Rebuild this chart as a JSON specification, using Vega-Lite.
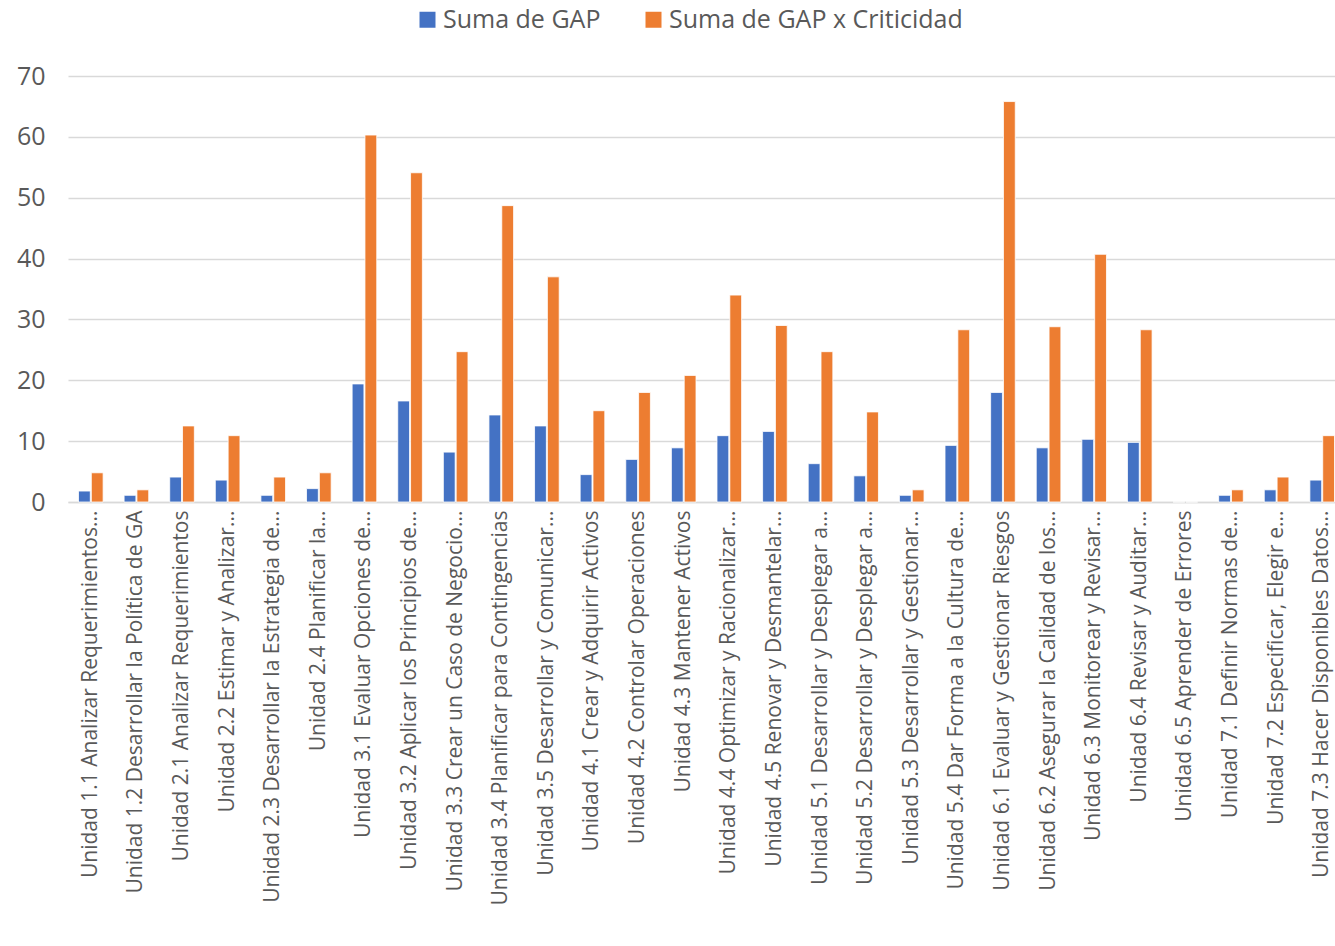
{
  "$schema": "https://vega.github.io/schema/vega-lite/v6.json",
  "width": 1267,
  "height": 426,
  "autosize": "none",
  "padding": {"left": 68, "top": 76, "right": 0, "bottom": 444},
  "background": "white",
  "config": {
    "view": {"stroke": null},
    "font": "Open Sans"
  },
  "data": {
    "values": [
      {"unidad": "Unidad 1.1 Analizar Requerimientos...", "serie": "Suma de GAP", "valor": 1.8},
      {"unidad": "Unidad 1.1 Analizar Requerimientos...", "serie": "Suma de GAP x Criticidad", "valor": 4.8},
      {"unidad": "Unidad 1.2 Desarrollar la Política de GA", "serie": "Suma de GAP", "valor": 1.1},
      {"unidad": "Unidad 1.2 Desarrollar la Política de GA", "serie": "Suma de GAP x Criticidad", "valor": 2},
      {"unidad": "Unidad 2.1 Analizar Requerimientos", "serie": "Suma de GAP", "valor": 4.1},
      {"unidad": "Unidad 2.1 Analizar Requerimientos", "serie": "Suma de GAP x Criticidad", "valor": 12.5},
      {"unidad": "Unidad 2.2 Estimar y Analizar...", "serie": "Suma de GAP", "valor": 3.6},
      {"unidad": "Unidad 2.2 Estimar y Analizar...", "serie": "Suma de GAP x Criticidad", "valor": 10.9},
      {"unidad": "Unidad 2.3 Desarrollar la Estrategia de...", "serie": "Suma de GAP", "valor": 1.1},
      {"unidad": "Unidad 2.3 Desarrollar la Estrategia de...", "serie": "Suma de GAP x Criticidad", "valor": 4.1},
      {"unidad": "Unidad 2.4 Planificar la...", "serie": "Suma de GAP", "valor": 2.2},
      {"unidad": "Unidad 2.4 Planificar la...", "serie": "Suma de GAP x Criticidad", "valor": 4.8},
      {"unidad": "Unidad 3.1 Evaluar Opciones de...", "serie": "Suma de GAP", "valor": 19.4},
      {"unidad": "Unidad 3.1 Evaluar Opciones de...", "serie": "Suma de GAP x Criticidad", "valor": 60.3},
      {"unidad": "Unidad 3.2 Aplicar los Principios de...", "serie": "Suma de GAP", "valor": 16.6},
      {"unidad": "Unidad 3.2 Aplicar los Principios de...", "serie": "Suma de GAP x Criticidad", "valor": 54.1},
      {"unidad": "Unidad 3.3 Crear un Caso de Negocio...", "serie": "Suma de GAP", "valor": 8.2},
      {"unidad": "Unidad 3.3 Crear un Caso de Negocio...", "serie": "Suma de GAP x Criticidad", "valor": 24.7},
      {"unidad": "Unidad 3.4 Planificar para Contingencias", "serie": "Suma de GAP", "valor": 14.3},
      {"unidad": "Unidad 3.4 Planificar para Contingencias", "serie": "Suma de GAP x Criticidad", "valor": 48.7},
      {"unidad": "Unidad 3.5 Desarrollar y Comunicar...", "serie": "Suma de GAP", "valor": 12.5},
      {"unidad": "Unidad 3.5 Desarrollar y Comunicar...", "serie": "Suma de GAP x Criticidad", "valor": 37},
      {"unidad": "Unidad 4.1 Crear y Adquirir Activos", "serie": "Suma de GAP", "valor": 4.5},
      {"unidad": "Unidad 4.1 Crear y Adquirir Activos", "serie": "Suma de GAP x Criticidad", "valor": 15},
      {"unidad": "Unidad 4.2 Controlar Operaciones", "serie": "Suma de GAP", "valor": 7},
      {"unidad": "Unidad 4.2 Controlar Operaciones", "serie": "Suma de GAP x Criticidad", "valor": 18},
      {"unidad": "Unidad 4.3 Mantener Activos", "serie": "Suma de GAP", "valor": 8.9},
      {"unidad": "Unidad 4.3 Mantener Activos", "serie": "Suma de GAP x Criticidad", "valor": 20.8},
      {"unidad": "Unidad 4.4 Optimizar y Racionalizar...", "serie": "Suma de GAP", "valor": 10.9},
      {"unidad": "Unidad 4.4 Optimizar y Racionalizar...", "serie": "Suma de GAP x Criticidad", "valor": 34},
      {"unidad": "Unidad 4.5 Renovar y Desmantelar...", "serie": "Suma de GAP", "valor": 11.6},
      {"unidad": "Unidad 4.5 Renovar y Desmantelar...", "serie": "Suma de GAP x Criticidad", "valor": 29},
      {"unidad": "Unidad 5.1 Desarrollar y Desplegar a...", "serie": "Suma de GAP", "valor": 6.3},
      {"unidad": "Unidad 5.1 Desarrollar y Desplegar a...", "serie": "Suma de GAP x Criticidad", "valor": 24.7},
      {"unidad": "Unidad 5.2 Desarrollar y Desplegar a... ", "serie": "Suma de GAP", "valor": 4.3},
      {"unidad": "Unidad 5.2 Desarrollar y Desplegar a... ", "serie": "Suma de GAP x Criticidad", "valor": 14.8},
      {"unidad": "Unidad 5.3 Desarrollar y Gestionar...", "serie": "Suma de GAP", "valor": 1.1},
      {"unidad": "Unidad 5.3 Desarrollar y Gestionar...", "serie": "Suma de GAP x Criticidad", "valor": 2},
      {"unidad": "Unidad 5.4 Dar Forma a la Cultura de...", "serie": "Suma de GAP", "valor": 9.3},
      {"unidad": "Unidad 5.4 Dar Forma a la Cultura de...", "serie": "Suma de GAP x Criticidad", "valor": 28.3},
      {"unidad": "Unidad 6.1 Evaluar y Gestionar Riesgos", "serie": "Suma de GAP", "valor": 18},
      {"unidad": "Unidad 6.1 Evaluar y Gestionar Riesgos", "serie": "Suma de GAP x Criticidad", "valor": 65.8},
      {"unidad": "Unidad 6.2 Asegurar la Calidad de los...", "serie": "Suma de GAP", "valor": 8.9},
      {"unidad": "Unidad 6.2 Asegurar la Calidad de los...", "serie": "Suma de GAP x Criticidad", "valor": 28.8},
      {"unidad": "Unidad 6.3 Monitorear y Revisar...", "serie": "Suma de GAP", "valor": 10.3},
      {"unidad": "Unidad 6.3 Monitorear y Revisar...", "serie": "Suma de GAP x Criticidad", "valor": 40.7},
      {"unidad": "Unidad 6.4 Revisar y Auditar...", "serie": "Suma de GAP", "valor": 9.8},
      {"unidad": "Unidad 6.4 Revisar y Auditar...", "serie": "Suma de GAP x Criticidad", "valor": 28.3},
      {"unidad": "Unidad 6.5 Aprender de Errores", "serie": "Suma de GAP", "valor": 0},
      {"unidad": "Unidad 6.5 Aprender de Errores", "serie": "Suma de GAP x Criticidad", "valor": 0},
      {"unidad": "Unidad 7.1 Definir Normas de...", "serie": "Suma de GAP", "valor": 1.1},
      {"unidad": "Unidad 7.1 Definir Normas de...", "serie": "Suma de GAP x Criticidad", "valor": 2},
      {"unidad": "Unidad 7.2 Especificar, Elegir e...", "serie": "Suma de GAP", "valor": 2},
      {"unidad": "Unidad 7.2 Especificar, Elegir e...", "serie": "Suma de GAP x Criticidad", "valor": 4.1},
      {"unidad": "Unidad 7.3 Hacer Disponibles Datos...", "serie": "Suma de GAP", "valor": 3.6},
      {"unidad": "Unidad 7.3 Hacer Disponibles Datos...", "serie": "Suma de GAP x Criticidad", "valor": 10.9}
    ]
  },
  "mark": {"type": "bar", "stroke": "white", "strokeWidth": 0.8},
  "encoding": {
    "x": {
      "field": "unidad",
      "type": "nominal",
      "sort": null,
      "title": null,
      "scale": {"paddingInner": 0.46, "paddingOuter": 0.23, "range": [0, 1277]},
      "axis": {
        "labelAngle": -90,
        "labelFont": "Open Sans",
        "labelFontSize": 21,
        "labelColor": "#595959",
        "labelPadding": 8,
        "labelLimit": 0,
        "ticks": false,
        "domain": true,
        "domainColor": "#D9D9D9",
        "domainWidth": 1.5,
        "grid": false
      }
    },
    "xOffset": {"field": "serie", "type": "nominal", "scale": {"paddingInner": 0.08}},
    "y": {
      "field": "valor",
      "type": "quantitative",
      "title": null,
      "scale": {"domain": [0, 70], "nice": false},
      "axis": {
        "values": [0, 10, 20, 30, 40, 50, 60, 70],
        "labelFont": "Open Sans",
        "labelFontSize": 25,
        "labelColor": "#595959",
        "labelPadding": 23,
        "ticks": false,
        "domain": false,
        "grid": true,
        "gridColor": "#D9D9D9",
        "gridWidth": 1.5
      }
    },
    "color": {
      "field": "serie",
      "type": "nominal",
      "title": null,
      "scale": {"domain": ["Suma de GAP", "Suma de GAP x Criticidad"], "range": ["#4472C4", "#ED7D31"]},
      "legend": {
        "orient": "none",
        "direction": "horizontal",
        "legendX": 347,
        "legendY": -69,
        "symbolType": "square",
        "symbolSize": 256,
        "symbolStrokeWidth": 0,
        "labelFont": "Open Sans",
        "labelFontSize": 25,
        "labelColor": "#595959",
        "labelLimit": 0,
        "columnPadding": 40,
        "symbolOffset": 0,
        "labelOffset": 3
      }
    }
  }
}
